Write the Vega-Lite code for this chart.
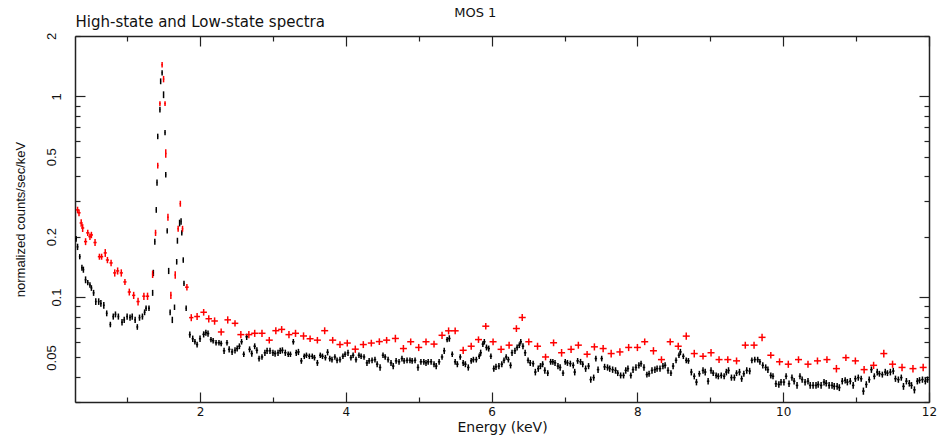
{
  "$schema": "https://vega.github.io/schema/vega-lite/v6.json",
  "width": 854,
  "height": 366,
  "autosize": {"type": "none"},
  "padding": {"left": 75, "top": 36, "right": 12, "bottom": 38},
  "background": "white",
  "title": {"text": "MOS 1", "anchor": "middle", "frame": "bounds", "font": "DejaVu Sans", "fontSize": 13, "fontWeight": "normal", "color": "#111111", "offset": -6},
  "config": {"view": {"stroke": null}},
  "datasets": {
    "d": [
      {"s":"low","e":0.30,"de":0.012,"v":0.195,"dv":0.0065},
      {"s":"low","e":0.32,"de":0.012,"v":0.178,"dv":0.0065},
      {"s":"low","e":0.35,"de":0.012,"v":0.159,"dv":0.0048},
      {"s":"low","e":0.38,"de":0.012,"v":0.140,"dv":0.0048},
      {"s":"low","e":0.40,"de":0.012,"v":0.137,"dv":0.0048},
      {"s":"low","e":0.43,"de":0.012,"v":0.122,"dv":0.0048},
      {"s":"low","e":0.46,"de":0.012,"v":0.118,"dv":0.0036},
      {"s":"low","e":0.49,"de":0.012,"v":0.115,"dv":0.0036},
      {"s":"low","e":0.51,"de":0.012,"v":0.111,"dv":0.0036},
      {"s":"low","e":0.54,"de":0.012,"v":0.105,"dv":0.0036},
      {"s":"low","e":0.57,"de":0.012,"v":0.095,"dv":0.0036},
      {"s":"low","e":0.61,"de":0.012,"v":0.095,"dv":0.0036},
      {"s":"low","e":0.64,"de":0.012,"v":0.093,"dv":0.0036},
      {"s":"low","e":0.68,"de":0.012,"v":0.091,"dv":0.0036},
      {"s":"low","e":0.72,"de":0.012,"v":0.083,"dv":0.0028},
      {"s":"low","e":0.77,"de":0.012,"v":0.073,"dv":0.0023},
      {"s":"low","e":0.81,"de":0.012,"v":0.080,"dv":0.0028},
      {"s":"low","e":0.84,"de":0.012,"v":0.082,"dv":0.0028},
      {"s":"low","e":0.88,"de":0.012,"v":0.080,"dv":0.0028},
      {"s":"low","e":0.93,"de":0.012,"v":0.075,"dv":0.0028},
      {"s":"low","e":0.96,"de":0.012,"v":0.077,"dv":0.0028},
      {"s":"low","e":1.00,"de":0.012,"v":0.080,"dv":0.0028},
      {"s":"low","e":1.04,"de":0.012,"v":0.079,"dv":0.0028},
      {"s":"low","e":1.07,"de":0.012,"v":0.080,"dv":0.0028},
      {"s":"low","e":1.11,"de":0.012,"v":0.077,"dv":0.0028},
      {"s":"low","e":1.14,"de":0.012,"v":0.071,"dv":0.0023},
      {"s":"low","e":1.17,"de":0.012,"v":0.079,"dv":0.0028},
      {"s":"low","e":1.21,"de":0.012,"v":0.080,"dv":0.0028},
      {"s":"low","e":1.24,"de":0.012,"v":0.084,"dv":0.0028},
      {"s":"low","e":1.26,"de":0.012,"v":0.088,"dv":0.0028},
      {"s":"low","e":1.30,"de":0.012,"v":0.088,"dv":0.0028},
      {"s":"low","e":1.35,"de":0.006,"v":0.105,"dv":0.0036},
      {"s":"low","e":1.36,"de":0.006,"v":0.132,"dv":0.0048},
      {"s":"low","e":1.38,"de":0.006,"v":0.189,"dv":0.0065},
      {"s":"low","e":1.40,"de":0.006,"v":0.272,"dv":0.009},
      {"s":"low","e":1.41,"de":0.006,"v":0.372,"dv":0.013},
      {"s":"low","e":1.42,"de":0.006,"v":0.632,"dv":0.02},
      {"s":"low","e":1.45,"de":0.006,"v":0.86,"dv":0.028},
      {"s":"low","e":1.46,"de":0.006,"v":1.19,"dv":0.04},
      {"s":"low","e":1.48,"de":0.006,"v":1.31,"dv":0.04},
      {"s":"low","e":1.50,"de":0.006,"v":1.02,"dv":0.04},
      {"s":"low","e":1.52,"de":0.006,"v":0.66,"dv":0.02},
      {"s":"low","e":1.53,"de":0.006,"v":0.407,"dv":0.013},
      {"s":"low","e":1.55,"de":0.006,"v":0.214,"dv":0.0065},
      {"s":"low","e":1.57,"de":0.006,"v":0.135,"dv":0.0048},
      {"s":"low","e":1.59,"de":0.006,"v":0.084,"dv":0.0028},
      {"s":"low","e":1.62,"de":0.006,"v":0.077,"dv":0.0028},
      {"s":"low","e":1.65,"de":0.006,"v":0.089,"dv":0.0028},
      {"s":"low","e":1.68,"de":0.006,"v":0.150,"dv":0.0048},
      {"s":"low","e":1.69,"de":0.006,"v":0.191,"dv":0.0065},
      {"s":"low","e":1.72,"de":0.006,"v":0.234,"dv":0.009},
      {"s":"low","e":1.74,"de":0.006,"v":0.238,"dv":0.009},
      {"s":"low","e":1.75,"de":0.006,"v":0.209,"dv":0.0065},
      {"s":"low","e":1.77,"de":0.006,"v":0.153,"dv":0.0048},
      {"s":"low","e":1.78,"de":0.006,"v":0.117,"dv":0.0036},
      {"s":"low","e":1.81,"de":0.008,"v":0.088,"dv":0.0028},
      {"s":"low","e":1.86,"de":0.015,"v":0.065,"dv":0.0023},
      {"s":"low","e":1.90,"de":0.015,"v":0.062,"dv":0.0023},
      {"s":"low","e":1.93,"de":0.015,"v":0.060,"dv":0.0019},
      {"s":"low","e":1.96,"de":0.015,"v":0.058,"dv":0.0019},
      {"s":"low","e":2.00,"de":0.015,"v":0.062,"dv":0.0023},
      {"s":"low","e":2.05,"de":0.017,"v":0.0652,"dv":0.0023},
      {"s":"low","e":2.08,"de":0.017,"v":0.0665,"dv":0.0023},
      {"s":"low","e":2.11,"de":0.017,"v":0.0658,"dv":0.0023},
      {"s":"low","e":2.15,"de":0.017,"v":0.0614,"dv":0.0019},
      {"s":"low","e":2.18,"de":0.017,"v":0.0606,"dv":0.0019},
      {"s":"low","e":2.22,"de":0.017,"v":0.0592,"dv":0.0019},
      {"s":"low","e":2.26,"de":0.017,"v":0.0592,"dv":0.0019},
      {"s":"low","e":2.29,"de":0.017,"v":0.0587,"dv":0.0019},
      {"s":"low","e":2.33,"de":0.017,"v":0.0540,"dv":0.0019},
      {"s":"low","e":2.37,"de":0.017,"v":0.0592,"dv":0.0019},
      {"s":"low","e":2.40,"de":0.017,"v":0.0549,"dv":0.0019},
      {"s":"low","e":2.44,"de":0.017,"v":0.0533,"dv":0.0019},
      {"s":"low","e":2.48,"de":0.017,"v":0.0543,"dv":0.0019},
      {"s":"low","e":2.51,"de":0.017,"v":0.0554,"dv":0.0019},
      {"s":"low","e":2.54,"de":0.017,"v":0.0569,"dv":0.0019},
      {"s":"low","e":2.57,"de":0.017,"v":0.0599,"dv":0.0019},
      {"s":"low","e":2.60,"de":0.017,"v":0.0519,"dv":0.0016},
      {"s":"low","e":2.64,"de":0.017,"v":0.0634,"dv":0.0023},
      {"s":"low","e":2.68,"de":0.017,"v":0.0549,"dv":0.0019},
      {"s":"low","e":2.71,"de":0.017,"v":0.0523,"dv":0.0019},
      {"s":"low","e":2.75,"de":0.017,"v":0.0569,"dv":0.0019},
      {"s":"low","e":2.78,"de":0.017,"v":0.0543,"dv":0.0019},
      {"s":"low","e":2.81,"de":0.017,"v":0.0494,"dv":0.0016},
      {"s":"low","e":2.85,"de":0.017,"v":0.0503,"dv":0.0016},
      {"s":"low","e":2.89,"de":0.017,"v":0.0528,"dv":0.0019},
      {"s":"low","e":2.92,"de":0.017,"v":0.0540,"dv":0.0019},
      {"s":"low","e":2.96,"de":0.017,"v":0.0540,"dv":0.0019},
      {"s":"low","e":3.00,"de":0.017,"v":0.0528,"dv":0.0019},
      {"s":"low","e":3.03,"de":0.017,"v":0.0523,"dv":0.0019},
      {"s":"low","e":3.07,"de":0.017,"v":0.0528,"dv":0.0019},
      {"s":"low","e":3.10,"de":0.017,"v":0.0540,"dv":0.0019},
      {"s":"low","e":3.13,"de":0.017,"v":0.0543,"dv":0.0019},
      {"s":"low","e":3.17,"de":0.017,"v":0.0528,"dv":0.0019},
      {"s":"low","e":3.21,"de":0.017,"v":0.0519,"dv":0.0016},
      {"s":"low","e":3.24,"de":0.017,"v":0.0519,"dv":0.0016},
      {"s":"low","e":3.28,"de":0.017,"v":0.0599,"dv":0.0019},
      {"s":"low","e":3.32,"de":0.017,"v":0.0528,"dv":0.0019},
      {"s":"low","e":3.35,"de":0.017,"v":0.0533,"dv":0.0019},
      {"s":"low","e":3.39,"de":0.017,"v":0.0481,"dv":0.0016},
      {"s":"low","e":3.43,"de":0.017,"v":0.0507,"dv":0.0016},
      {"s":"low","e":3.46,"de":0.017,"v":0.0513,"dv":0.0016},
      {"s":"low","e":3.50,"de":0.017,"v":0.0507,"dv":0.0016},
      {"s":"low","e":3.54,"de":0.017,"v":0.0507,"dv":0.0016},
      {"s":"low","e":3.57,"de":0.017,"v":0.0499,"dv":0.0016},
      {"s":"low","e":3.61,"de":0.017,"v":0.0470,"dv":0.0016},
      {"s":"low","e":3.65,"de":0.017,"v":0.0513,"dv":0.0016},
      {"s":"low","e":3.68,"de":0.017,"v":0.0507,"dv":0.0016},
      {"s":"low","e":3.72,"de":0.017,"v":0.0499,"dv":0.0016},
      {"s":"low","e":3.75,"de":0.017,"v":0.0531,"dv":0.0019},
      {"s":"low","e":3.78,"de":0.017,"v":0.0494,"dv":0.0016},
      {"s":"low","e":3.81,"de":0.017,"v":0.0488,"dv":0.0016},
      {"s":"low","e":3.85,"de":0.017,"v":0.0503,"dv":0.0016},
      {"s":"low","e":3.88,"de":0.017,"v":0.0484,"dv":0.0016},
      {"s":"low","e":3.92,"de":0.017,"v":0.0488,"dv":0.0016},
      {"s":"low","e":3.96,"de":0.017,"v":0.0507,"dv":0.0016},
      {"s":"low","e":3.99,"de":0.017,"v":0.0519,"dv":0.0016},
      {"s":"low","e":4.03,"de":0.017,"v":0.0528,"dv":0.0019},
      {"s":"low","e":4.07,"de":0.017,"v":0.0499,"dv":0.0016},
      {"s":"low","e":4.10,"de":0.017,"v":0.0513,"dv":0.0016},
      {"s":"low","e":4.14,"de":0.017,"v":0.0488,"dv":0.0016},
      {"s":"low","e":4.18,"de":0.017,"v":0.0513,"dv":0.0016},
      {"s":"low","e":4.21,"de":0.017,"v":0.0507,"dv":0.0016},
      {"s":"low","e":4.25,"de":0.017,"v":0.0503,"dv":0.0016},
      {"s":"low","e":4.29,"de":0.017,"v":0.0470,"dv":0.0016},
      {"s":"low","e":4.32,"de":0.017,"v":0.0481,"dv":0.0016},
      {"s":"low","e":4.36,"de":0.017,"v":0.0484,"dv":0.0016},
      {"s":"low","e":4.40,"de":0.017,"v":0.0488,"dv":0.0016},
      {"s":"low","e":4.43,"de":0.017,"v":0.0463,"dv":0.0016},
      {"s":"low","e":4.47,"de":0.017,"v":0.0446,"dv":0.0016},
      {"s":"low","e":4.51,"de":0.017,"v":0.0513,"dv":0.0016},
      {"s":"low","e":4.54,"de":0.017,"v":0.0503,"dv":0.0016},
      {"s":"low","e":4.58,"de":0.017,"v":0.0488,"dv":0.0016},
      {"s":"low","e":4.62,"de":0.017,"v":0.0470,"dv":0.0016},
      {"s":"low","e":4.65,"de":0.017,"v":0.0453,"dv":0.0016},
      {"s":"low","e":4.69,"de":0.017,"v":0.0481,"dv":0.0016},
      {"s":"low","e":4.73,"de":0.017,"v":0.0476,"dv":0.0016},
      {"s":"low","e":4.77,"de":0.017,"v":0.0494,"dv":0.0016},
      {"s":"low","e":4.80,"de":0.017,"v":0.0481,"dv":0.0016},
      {"s":"low","e":4.84,"de":0.017,"v":0.0484,"dv":0.0016},
      {"s":"low","e":4.88,"de":0.017,"v":0.0484,"dv":0.0016},
      {"s":"low","e":4.91,"de":0.017,"v":0.0481,"dv":0.0016},
      {"s":"low","e":4.95,"de":0.017,"v":0.0484,"dv":0.0016},
      {"s":"low","e":4.99,"de":0.017,"v":0.0446,"dv":0.0016},
      {"s":"low","e":5.03,"de":0.017,"v":0.0476,"dv":0.0016},
      {"s":"low","e":5.07,"de":0.017,"v":0.0476,"dv":0.0016},
      {"s":"low","e":5.10,"de":0.017,"v":0.0470,"dv":0.0016},
      {"s":"low","e":5.13,"de":0.017,"v":0.0476,"dv":0.0016},
      {"s":"low","e":5.17,"de":0.017,"v":0.0476,"dv":0.0016},
      {"s":"low","e":5.21,"de":0.017,"v":0.0463,"dv":0.0016},
      {"s":"low","e":5.24,"de":0.017,"v":0.0453,"dv":0.0016},
      {"s":"low","e":5.28,"de":0.017,"v":0.0476,"dv":0.0016},
      {"s":"low","e":5.32,"de":0.017,"v":0.0503,"dv":0.0016},
      {"s":"low","e":5.35,"de":0.017,"v":0.0540,"dv":0.0019},
      {"s":"low","e":5.39,"de":0.017,"v":0.0614,"dv":0.0019},
      {"s":"low","e":5.42,"de":0.017,"v":0.0622,"dv":0.0023},
      {"s":"low","e":5.46,"de":0.017,"v":0.0519,"dv":0.0016},
      {"s":"low","e":5.50,"de":0.017,"v":0.0476,"dv":0.0016},
      {"s":"low","e":5.53,"de":0.017,"v":0.0463,"dv":0.0016},
      {"s":"low","e":5.57,"de":0.017,"v":0.0503,"dv":0.0016},
      {"s":"low","e":5.61,"de":0.017,"v":0.0470,"dv":0.0016},
      {"s":"low","e":5.64,"de":0.017,"v":0.0463,"dv":0.0016},
      {"s":"low","e":5.68,"de":0.017,"v":0.0446,"dv":0.0016},
      {"s":"low","e":5.72,"de":0.017,"v":0.0481,"dv":0.0016},
      {"s":"low","e":5.75,"de":0.017,"v":0.0488,"dv":0.0016},
      {"s":"low","e":5.79,"de":0.017,"v":0.0488,"dv":0.0016},
      {"s":"low","e":5.83,"de":0.017,"v":0.0507,"dv":0.0016},
      {"s":"low","e":5.85,"de":0.017,"v":0.0528,"dv":0.0019},
      {"s":"low","e":5.88,"de":0.017,"v":0.0583,"dv":0.0019},
      {"s":"low","e":5.90,"de":0.017,"v":0.0599,"dv":0.0019},
      {"s":"low","e":5.93,"de":0.017,"v":0.0561,"dv":0.0019},
      {"s":"low","e":5.96,"de":0.017,"v":0.0554,"dv":0.0019},
      {"s":"low","e":5.99,"de":0.017,"v":0.0507,"dv":0.0016},
      {"s":"low","e":6.03,"de":0.017,"v":0.0440,"dv":0.0016},
      {"s":"low","e":6.06,"de":0.017,"v":0.0449,"dv":0.0016},
      {"s":"low","e":6.10,"de":0.017,"v":0.0453,"dv":0.0016},
      {"s":"low","e":6.14,"de":0.017,"v":0.0463,"dv":0.0016},
      {"s":"low","e":6.17,"de":0.017,"v":0.0484,"dv":0.0016},
      {"s":"low","e":6.20,"de":0.017,"v":0.0503,"dv":0.0016},
      {"s":"low","e":6.23,"de":0.017,"v":0.0488,"dv":0.0016},
      {"s":"low","e":6.26,"de":0.017,"v":0.0457,"dv":0.0016},
      {"s":"low","e":6.28,"de":0.017,"v":0.0528,"dv":0.0019},
      {"s":"low","e":6.32,"de":0.017,"v":0.0540,"dv":0.0019},
      {"s":"low","e":6.35,"de":0.017,"v":0.0561,"dv":0.0019},
      {"s":"low","e":6.38,"de":0.017,"v":0.0576,"dv":0.0019},
      {"s":"low","e":6.40,"de":0.017,"v":0.0599,"dv":0.0019},
      {"s":"low","e":6.43,"de":0.017,"v":0.0569,"dv":0.0019},
      {"s":"low","e":6.46,"de":0.017,"v":0.0528,"dv":0.0019},
      {"s":"low","e":6.50,"de":0.017,"v":0.0484,"dv":0.0016},
      {"s":"low","e":6.53,"de":0.017,"v":0.0470,"dv":0.0016},
      {"s":"low","e":6.57,"de":0.017,"v":0.0466,"dv":0.0016},
      {"s":"low","e":6.60,"de":0.017,"v":0.0423,"dv":0.0016},
      {"s":"low","e":6.64,"de":0.017,"v":0.0440,"dv":0.0016},
      {"s":"low","e":6.67,"de":0.017,"v":0.0453,"dv":0.0016},
      {"s":"low","e":6.70,"de":0.017,"v":0.0463,"dv":0.0016},
      {"s":"low","e":6.73,"de":0.017,"v":0.0431,"dv":0.0016},
      {"s":"low","e":6.77,"de":0.017,"v":0.0418,"dv":0.0014},
      {"s":"low","e":6.81,"de":0.017,"v":0.0476,"dv":0.0016},
      {"s":"low","e":6.84,"de":0.017,"v":0.0476,"dv":0.0016},
      {"s":"low","e":6.87,"de":0.017,"v":0.0470,"dv":0.0016},
      {"s":"low","e":6.91,"de":0.017,"v":0.0453,"dv":0.0016},
      {"s":"low","e":6.94,"de":0.017,"v":0.0446,"dv":0.0016},
      {"s":"low","e":6.98,"de":0.017,"v":0.0418,"dv":0.0014},
      {"s":"low","e":7.01,"de":0.017,"v":0.0476,"dv":0.0016},
      {"s":"low","e":7.04,"de":0.017,"v":0.0470,"dv":0.0016},
      {"s":"low","e":7.08,"de":0.017,"v":0.0466,"dv":0.0016},
      {"s":"low","e":7.12,"de":0.017,"v":0.0457,"dv":0.0016},
      {"s":"low","e":7.14,"de":0.017,"v":0.0423,"dv":0.0016},
      {"s":"low","e":7.18,"de":0.017,"v":0.0481,"dv":0.0016},
      {"s":"low","e":7.22,"de":0.017,"v":0.0476,"dv":0.0016},
      {"s":"low","e":7.25,"de":0.017,"v":0.0463,"dv":0.0016},
      {"s":"low","e":7.29,"de":0.017,"v":0.0440,"dv":0.0016},
      {"s":"low","e":7.33,"de":0.017,"v":0.0453,"dv":0.0016},
      {"s":"low","e":7.36,"de":0.017,"v":0.0388,"dv":0.0014},
      {"s":"low","e":7.40,"de":0.017,"v":0.0397,"dv":0.0014},
      {"s":"low","e":7.43,"de":0.017,"v":0.0494,"dv":0.0016},
      {"s":"low","e":7.46,"de":0.017,"v":0.0435,"dv":0.0016},
      {"s":"low","e":7.51,"de":0.017,"v":0.0494,"dv":0.0016},
      {"s":"low","e":7.55,"de":0.017,"v":0.0449,"dv":0.0016},
      {"s":"low","e":7.59,"de":0.017,"v":0.0446,"dv":0.0016},
      {"s":"low","e":7.62,"de":0.017,"v":0.0440,"dv":0.0016},
      {"s":"low","e":7.66,"de":0.017,"v":0.0435,"dv":0.0016},
      {"s":"low","e":7.70,"de":0.017,"v":0.0431,"dv":0.0016},
      {"s":"low","e":7.73,"de":0.017,"v":0.0418,"dv":0.0014},
      {"s":"low","e":7.77,"de":0.017,"v":0.0407,"dv":0.0014},
      {"s":"low","e":7.81,"de":0.017,"v":0.0407,"dv":0.0014},
      {"s":"low","e":7.84,"de":0.017,"v":0.0431,"dv":0.0016},
      {"s":"low","e":7.87,"de":0.017,"v":0.0440,"dv":0.0016},
      {"s":"low","e":7.91,"de":0.017,"v":0.0407,"dv":0.0014},
      {"s":"low","e":7.94,"de":0.017,"v":0.0435,"dv":0.0016},
      {"s":"low","e":7.98,"de":0.017,"v":0.0446,"dv":0.0016},
      {"s":"low","e":8.02,"de":0.017,"v":0.0457,"dv":0.0016},
      {"s":"low","e":8.05,"de":0.017,"v":0.0466,"dv":0.0016},
      {"s":"low","e":8.09,"de":0.017,"v":0.0446,"dv":0.0016},
      {"s":"low","e":8.13,"de":0.017,"v":0.0411,"dv":0.0014},
      {"s":"low","e":8.16,"de":0.017,"v":0.0415,"dv":0.0014},
      {"s":"low","e":8.20,"de":0.017,"v":0.0431,"dv":0.0016},
      {"s":"low","e":8.24,"de":0.017,"v":0.0435,"dv":0.0016},
      {"s":"low","e":8.27,"de":0.017,"v":0.0440,"dv":0.0016},
      {"s":"low","e":8.31,"de":0.017,"v":0.0440,"dv":0.0016},
      {"s":"low","e":8.35,"de":0.017,"v":0.0453,"dv":0.0016},
      {"s":"low","e":8.38,"de":0.017,"v":0.0457,"dv":0.0016},
      {"s":"low","e":8.42,"de":0.017,"v":0.0431,"dv":0.0016},
      {"s":"low","e":8.46,"de":0.017,"v":0.0418,"dv":0.0014},
      {"s":"low","e":8.49,"de":0.017,"v":0.0453,"dv":0.0016},
      {"s":"low","e":8.53,"de":0.017,"v":0.0484,"dv":0.0016},
      {"s":"low","e":8.57,"de":0.017,"v":0.0513,"dv":0.0016},
      {"s":"low","e":8.59,"de":0.017,"v":0.0533,"dv":0.0019},
      {"s":"low","e":8.63,"de":0.017,"v":0.0507,"dv":0.0016},
      {"s":"low","e":8.67,"de":0.017,"v":0.0484,"dv":0.0016},
      {"s":"low","e":8.70,"de":0.017,"v":0.0481,"dv":0.0016},
      {"s":"low","e":8.74,"de":0.017,"v":0.0423,"dv":0.0016},
      {"s":"low","e":8.78,"de":0.017,"v":0.0403,"dv":0.0014},
      {"s":"low","e":8.81,"de":0.017,"v":0.0377,"dv":0.0014},
      {"s":"low","e":8.85,"de":0.017,"v":0.0415,"dv":0.0014},
      {"s":"low","e":8.90,"de":0.017,"v":0.0431,"dv":0.0016},
      {"s":"low","e":8.93,"de":0.017,"v":0.0423,"dv":0.0016},
      {"s":"low","e":8.97,"de":0.017,"v":0.0381,"dv":0.0014},
      {"s":"low","e":9.01,"de":0.017,"v":0.0431,"dv":0.0016},
      {"s":"low","e":9.04,"de":0.017,"v":0.0418,"dv":0.0014},
      {"s":"low","e":9.08,"de":0.017,"v":0.0407,"dv":0.0014},
      {"s":"low","e":9.11,"de":0.017,"v":0.0403,"dv":0.0014},
      {"s":"low","e":9.15,"de":0.017,"v":0.0407,"dv":0.0014},
      {"s":"low","e":9.19,"de":0.017,"v":0.0403,"dv":0.0014},
      {"s":"low","e":9.22,"de":0.017,"v":0.0423,"dv":0.0016},
      {"s":"low","e":9.25,"de":0.017,"v":0.0431,"dv":0.0016},
      {"s":"low","e":9.29,"de":0.017,"v":0.0397,"dv":0.0014},
      {"s":"low","e":9.33,"de":0.017,"v":0.0397,"dv":0.0014},
      {"s":"low","e":9.36,"de":0.017,"v":0.0418,"dv":0.0014},
      {"s":"low","e":9.40,"de":0.017,"v":0.0423,"dv":0.0016},
      {"s":"low","e":9.43,"de":0.017,"v":0.0392,"dv":0.0014},
      {"s":"low","e":9.46,"de":0.017,"v":0.0415,"dv":0.0014},
      {"s":"low","e":9.50,"de":0.017,"v":0.0431,"dv":0.0016},
      {"s":"low","e":9.54,"de":0.017,"v":0.0428,"dv":0.0016},
      {"s":"low","e":9.57,"de":0.017,"v":0.0484,"dv":0.0016},
      {"s":"low","e":9.61,"de":0.017,"v":0.0488,"dv":0.0016},
      {"s":"low","e":9.65,"de":0.017,"v":0.0488,"dv":0.0016},
      {"s":"low","e":9.68,"de":0.017,"v":0.0476,"dv":0.0016},
      {"s":"low","e":9.72,"de":0.017,"v":0.0457,"dv":0.0016},
      {"s":"low","e":9.76,"de":0.017,"v":0.0446,"dv":0.0016},
      {"s":"low","e":9.79,"de":0.017,"v":0.0435,"dv":0.0016},
      {"s":"low","e":9.83,"de":0.017,"v":0.0407,"dv":0.0014},
      {"s":"low","e":9.86,"de":0.017,"v":0.0403,"dv":0.0014},
      {"s":"low","e":9.90,"de":0.017,"v":0.0370,"dv":0.0014},
      {"s":"low","e":9.94,"de":0.017,"v":0.0367,"dv":0.0014},
      {"s":"low","e":9.97,"de":0.017,"v":0.0377,"dv":0.0014},
      {"s":"low","e":10.01,"de":0.017,"v":0.0377,"dv":0.0014},
      {"s":"low","e":10.04,"de":0.017,"v":0.0403,"dv":0.0014},
      {"s":"low","e":10.08,"de":0.017,"v":0.0370,"dv":0.0014},
      {"s":"low","e":10.12,"de":0.017,"v":0.0397,"dv":0.0014},
      {"s":"low","e":10.15,"de":0.017,"v":0.0381,"dv":0.0014},
      {"s":"low","e":10.19,"de":0.017,"v":0.0363,"dv":0.0014},
      {"s":"low","e":10.23,"de":0.017,"v":0.0403,"dv":0.0014},
      {"s":"low","e":10.26,"de":0.017,"v":0.0388,"dv":0.0014},
      {"s":"low","e":10.30,"de":0.017,"v":0.0377,"dv":0.0014},
      {"s":"low","e":10.34,"de":0.017,"v":0.0381,"dv":0.0014},
      {"s":"low","e":10.37,"de":0.017,"v":0.0363,"dv":0.0014},
      {"s":"low","e":10.41,"de":0.017,"v":0.0363,"dv":0.0014},
      {"s":"low","e":10.45,"de":0.017,"v":0.0363,"dv":0.0014},
      {"s":"low","e":10.48,"de":0.017,"v":0.0367,"dv":0.0014},
      {"s":"low","e":10.52,"de":0.017,"v":0.0363,"dv":0.0014},
      {"s":"low","e":10.56,"de":0.017,"v":0.0377,"dv":0.0014},
      {"s":"low","e":10.59,"de":0.017,"v":0.0372,"dv":0.0014},
      {"s":"low","e":10.63,"de":0.017,"v":0.0363,"dv":0.0014},
      {"s":"low","e":10.67,"de":0.017,"v":0.0363,"dv":0.0014},
      {"s":"low","e":10.70,"de":0.017,"v":0.0359,"dv":0.0014},
      {"s":"low","e":10.74,"de":0.017,"v":0.0359,"dv":0.0014},
      {"s":"low","e":10.77,"de":0.017,"v":0.0354,"dv":0.0014},
      {"s":"low","e":10.81,"de":0.017,"v":0.0381,"dv":0.0014},
      {"s":"low","e":10.85,"de":0.017,"v":0.0385,"dv":0.0014},
      {"s":"low","e":10.88,"de":0.017,"v":0.0377,"dv":0.0014},
      {"s":"low","e":10.92,"de":0.017,"v":0.0381,"dv":0.0014},
      {"s":"low","e":10.96,"de":0.017,"v":0.0363,"dv":0.0014},
      {"s":"low","e":10.99,"de":0.017,"v":0.0392,"dv":0.0014},
      {"s":"low","e":11.03,"de":0.017,"v":0.0397,"dv":0.0014},
      {"s":"low","e":11.07,"de":0.017,"v":0.0392,"dv":0.0014},
      {"s":"low","e":11.10,"de":0.017,"v":0.0340,"dv":0.0014},
      {"s":"low","e":11.14,"de":0.017,"v":0.0367,"dv":0.0014},
      {"s":"low","e":11.18,"de":0.017,"v":0.0388,"dv":0.0014},
      {"s":"low","e":11.21,"de":0.017,"v":0.0435,"dv":0.0016},
      {"s":"low","e":11.25,"de":0.017,"v":0.0403,"dv":0.0014},
      {"s":"low","e":11.29,"de":0.017,"v":0.0423,"dv":0.0016},
      {"s":"low","e":11.32,"de":0.017,"v":0.0415,"dv":0.0014},
      {"s":"low","e":11.36,"de":0.017,"v":0.0411,"dv":0.0014},
      {"s":"low","e":11.40,"de":0.017,"v":0.0423,"dv":0.0016},
      {"s":"low","e":11.43,"de":0.017,"v":0.0418,"dv":0.0014},
      {"s":"low","e":11.47,"de":0.017,"v":0.0423,"dv":0.0016},
      {"s":"low","e":11.51,"de":0.017,"v":0.0428,"dv":0.0016},
      {"s":"low","e":11.54,"de":0.017,"v":0.0392,"dv":0.0014},
      {"s":"low","e":11.58,"de":0.017,"v":0.0388,"dv":0.0014},
      {"s":"low","e":11.62,"de":0.017,"v":0.0397,"dv":0.0014},
      {"s":"low","e":11.65,"de":0.017,"v":0.0359,"dv":0.0014},
      {"s":"low","e":11.69,"de":0.017,"v":0.0381,"dv":0.0014},
      {"s":"low","e":11.73,"de":0.017,"v":0.0372,"dv":0.0014},
      {"s":"low","e":11.76,"de":0.017,"v":0.0363,"dv":0.0014},
      {"s":"low","e":11.80,"de":0.017,"v":0.0345,"dv":0.0014},
      {"s":"low","e":11.84,"de":0.017,"v":0.0381,"dv":0.0014},
      {"s":"low","e":11.87,"de":0.017,"v":0.0385,"dv":0.0014},
      {"s":"low","e":11.91,"de":0.017,"v":0.0388,"dv":0.0014},
      {"s":"low","e":11.95,"de":0.017,"v":0.0381,"dv":0.0014},
      {"s":"low","e":11.98,"de":0.017,"v":0.0388,"dv":0.0014},
      {"s":"high","e":0.32,"de":0.022,"v":0.272,"dv":0.01},
      {"s":"high","e":0.34,"de":0.022,"v":0.263,"dv":0.01},
      {"s":"high","e":0.37,"de":0.022,"v":0.234,"dv":0.01},
      {"s":"high","e":0.39,"de":0.022,"v":0.221,"dv":0.01},
      {"s":"high","e":0.43,"de":0.022,"v":0.189,"dv":0.0075},
      {"s":"high","e":0.46,"de":0.022,"v":0.209,"dv":0.0075},
      {"s":"high","e":0.49,"de":0.022,"v":0.200,"dv":0.0075},
      {"s":"high","e":0.51,"de":0.022,"v":0.204,"dv":0.0075},
      {"s":"high","e":0.56,"de":0.022,"v":0.187,"dv":0.0075},
      {"s":"high","e":0.62,"de":0.022,"v":0.159,"dv":0.0055},
      {"s":"high","e":0.65,"de":0.022,"v":0.159,"dv":0.0055},
      {"s":"high","e":0.70,"de":0.022,"v":0.166,"dv":0.0075},
      {"s":"high","e":0.73,"de":0.022,"v":0.153,"dv":0.0055},
      {"s":"high","e":0.78,"de":0.022,"v":0.148,"dv":0.0055},
      {"s":"high","e":0.83,"de":0.022,"v":0.132,"dv":0.0055},
      {"s":"high","e":0.87,"de":0.022,"v":0.135,"dv":0.0055},
      {"s":"high","e":0.92,"de":0.022,"v":0.132,"dv":0.0055},
      {"s":"high","e":0.97,"de":0.022,"v":0.119,"dv":0.0042},
      {"s":"high","e":1.03,"de":0.022,"v":0.106,"dv":0.0042},
      {"s":"high","e":1.09,"de":0.022,"v":0.102,"dv":0.0042},
      {"s":"high","e":1.15,"de":0.022,"v":0.095,"dv":0.0042},
      {"s":"high","e":1.23,"de":0.022,"v":0.101,"dv":0.0042},
      {"s":"high","e":1.28,"de":0.022,"v":0.101,"dv":0.0042},
      {"s":"high","e":1.35,"de":0.01,"v":0.130,"dv":0.0055},
      {"s":"high","e":1.39,"de":0.01,"v":0.209,"dv":0.0075},
      {"s":"high","e":1.42,"de":0.01,"v":0.452,"dv":0.015},
      {"s":"high","e":1.45,"de":0.01,"v":0.922,"dv":0.025},
      {"s":"high","e":1.48,"de":0.01,"v":1.44,"dv":0.045},
      {"s":"high","e":1.50,"de":0.01,"v":1.22,"dv":0.045},
      {"s":"high","e":1.52,"de":0.01,"v":0.922,"dv":0.025},
      {"s":"high","e":1.53,"de":0.01,"v":0.52,"dv":0.025},
      {"s":"high","e":1.56,"de":0.01,"v":0.25,"dv":0.01},
      {"s":"high","e":1.60,"de":0.01,"v":0.102,"dv":0.0042},
      {"s":"high","e":1.66,"de":0.01,"v":0.129,"dv":0.0055},
      {"s":"high","e":1.70,"de":0.01,"v":0.219,"dv":0.0075},
      {"s":"high","e":1.73,"de":0.01,"v":0.292,"dv":0.01},
      {"s":"high","e":1.76,"de":0.01,"v":0.219,"dv":0.0075},
      {"s":"high","e":1.82,"de":0.025,"v":0.112,"dv":0.0042},
      {"s":"high","e":1.88,"de":0.03,"v":0.079,"dv":0.0032},
      {"s":"high","e":1.96,"de":0.04,"v":0.080,"dv":0.0032},
      {"s":"high","e":2.05,"de":0.045,"v":0.084,"dv":0.0032},
      {"s":"high","e":2.12,"de":0.045,"v":0.078,"dv":0.0032},
      {"s":"high","e":2.20,"de":0.045,"v":0.076,"dv":0.0032},
      {"s":"high","e":2.29,"de":0.045,"v":0.067,"dv":0.0027},
      {"s":"high","e":2.38,"de":0.045,"v":0.077,"dv":0.0032},
      {"s":"high","e":2.48,"de":0.045,"v":0.074,"dv":0.0027},
      {"s":"high","e":2.56,"de":0.048,"v":0.065,"dv":0.0027},
      {"s":"high","e":2.67,"de":0.048,"v":0.065,"dv":0.0027},
      {"s":"high","e":2.75,"de":0.048,"v":0.066,"dv":0.0027},
      {"s":"high","e":2.85,"de":0.048,"v":0.066,"dv":0.0027},
      {"s":"high","e":2.95,"de":0.048,"v":0.061,"dv":0.0023},
      {"s":"high","e":3.04,"de":0.048,"v":0.068,"dv":0.0027},
      {"s":"high","e":3.12,"de":0.048,"v":0.069,"dv":0.0027},
      {"s":"high","e":3.22,"de":0.048,"v":0.065,"dv":0.0027},
      {"s":"high","e":3.31,"de":0.048,"v":0.066,"dv":0.0027},
      {"s":"high","e":3.42,"de":0.048,"v":0.064,"dv":0.0027},
      {"s":"high","e":3.51,"de":0.048,"v":0.062,"dv":0.0023},
      {"s":"high","e":3.61,"de":0.048,"v":0.061,"dv":0.0023},
      {"s":"high","e":3.71,"de":0.048,"v":0.068,"dv":0.0027},
      {"s":"high","e":3.82,"de":0.048,"v":0.061,"dv":0.0023},
      {"s":"high","e":3.92,"de":0.048,"v":0.058,"dv":0.0023},
      {"s":"high","e":4.02,"de":0.048,"v":0.059,"dv":0.0023},
      {"s":"high","e":4.13,"de":0.048,"v":0.055,"dv":0.0023},
      {"s":"high","e":4.24,"de":0.048,"v":0.058,"dv":0.0023},
      {"s":"high","e":4.35,"de":0.048,"v":0.059,"dv":0.0023},
      {"s":"high","e":4.46,"de":0.048,"v":0.060,"dv":0.0023},
      {"s":"high","e":4.56,"de":0.048,"v":0.061,"dv":0.0023},
      {"s":"high","e":4.68,"de":0.048,"v":0.0622,"dv":0.0027},
      {"s":"high","e":4.79,"de":0.048,"v":0.0554,"dv":0.0023},
      {"s":"high","e":4.89,"de":0.048,"v":0.0599,"dv":0.0023},
      {"s":"high","e":5.00,"de":0.048,"v":0.0561,"dv":0.0023},
      {"s":"high","e":5.10,"de":0.048,"v":0.0599,"dv":0.0023},
      {"s":"high","e":5.21,"de":0.048,"v":0.0583,"dv":0.0023},
      {"s":"high","e":5.32,"de":0.048,"v":0.0645,"dv":0.0027},
      {"s":"high","e":5.41,"de":0.048,"v":0.0679,"dv":0.0027},
      {"s":"high","e":5.50,"de":0.048,"v":0.0679,"dv":0.0027},
      {"s":"high","e":5.61,"de":0.048,"v":0.0543,"dv":0.0023},
      {"s":"high","e":5.72,"de":0.048,"v":0.0569,"dv":0.0023},
      {"s":"high","e":5.82,"de":0.048,"v":0.0614,"dv":0.0023},
      {"s":"high","e":5.92,"de":0.048,"v":0.0716,"dv":0.0027},
      {"s":"high","e":6.02,"de":0.048,"v":0.0599,"dv":0.0023},
      {"s":"high","e":6.13,"de":0.048,"v":0.0549,"dv":0.0023},
      {"s":"high","e":6.24,"de":0.048,"v":0.0576,"dv":0.0023},
      {"s":"high","e":6.34,"de":0.048,"v":0.0697,"dv":0.0027},
      {"s":"high","e":6.42,"de":0.048,"v":0.0791,"dv":0.0032},
      {"s":"high","e":6.51,"de":0.048,"v":0.0599,"dv":0.0023},
      {"s":"high","e":6.63,"de":0.048,"v":0.0569,"dv":0.0023},
      {"s":"high","e":6.74,"de":0.048,"v":0.0503,"dv":0.0019},
      {"s":"high","e":6.85,"de":0.048,"v":0.0592,"dv":0.0023},
      {"s":"high","e":6.96,"de":0.048,"v":0.0528,"dv":0.0023},
      {"s":"high","e":7.09,"de":0.048,"v":0.0549,"dv":0.0023},
      {"s":"high","e":7.19,"de":0.048,"v":0.0576,"dv":0.0023},
      {"s":"high","e":7.31,"de":0.048,"v":0.0519,"dv":0.0019},
      {"s":"high","e":7.41,"de":0.048,"v":0.0565,"dv":0.0023},
      {"s":"high","e":7.53,"de":0.048,"v":0.0554,"dv":0.0023},
      {"s":"high","e":7.64,"de":0.048,"v":0.0523,"dv":0.0023},
      {"s":"high","e":7.76,"de":0.048,"v":0.0533,"dv":0.0023},
      {"s":"high","e":7.88,"de":0.048,"v":0.0561,"dv":0.0023},
      {"s":"high","e":8.00,"de":0.048,"v":0.0561,"dv":0.0023},
      {"s":"high","e":8.10,"de":0.048,"v":0.0599,"dv":0.0023},
      {"s":"high","e":8.22,"de":0.048,"v":0.0540,"dv":0.0023},
      {"s":"high","e":8.33,"de":0.048,"v":0.0488,"dv":0.0019},
      {"s":"high","e":8.45,"de":0.048,"v":0.0599,"dv":0.0023},
      {"s":"high","e":8.56,"de":0.048,"v":0.0569,"dv":0.0023},
      {"s":"high","e":8.67,"de":0.048,"v":0.0639,"dv":0.0027},
      {"s":"high","e":8.78,"de":0.048,"v":0.0523,"dv":0.0023},
      {"s":"high","e":8.90,"de":0.048,"v":0.0507,"dv":0.0019},
      {"s":"high","e":9.01,"de":0.048,"v":0.0528,"dv":0.0023},
      {"s":"high","e":9.12,"de":0.048,"v":0.0488,"dv":0.0019},
      {"s":"high","e":9.24,"de":0.048,"v":0.0488,"dv":0.0019},
      {"s":"high","e":9.36,"de":0.048,"v":0.0481,"dv":0.0019},
      {"s":"high","e":9.48,"de":0.048,"v":0.0576,"dv":0.0023},
      {"s":"high","e":9.60,"de":0.048,"v":0.0576,"dv":0.0023},
      {"s":"high","e":9.71,"de":0.048,"v":0.0630,"dv":0.0027},
      {"s":"high","e":9.83,"de":0.048,"v":0.0513,"dv":0.0019},
      {"s":"high","e":9.95,"de":0.048,"v":0.0476,"dv":0.0019},
      {"s":"high","e":10.07,"de":0.048,"v":0.0463,"dv":0.0019},
      {"s":"high","e":10.21,"de":0.048,"v":0.0488,"dv":0.0019},
      {"s":"high","e":10.34,"de":0.048,"v":0.0463,"dv":0.0019},
      {"s":"high","e":10.47,"de":0.048,"v":0.0481,"dv":0.0019},
      {"s":"high","e":10.60,"de":0.048,"v":0.0488,"dv":0.0019},
      {"s":"high","e":10.73,"de":0.048,"v":0.0440,"dv":0.0019},
      {"s":"high","e":10.86,"de":0.048,"v":0.0499,"dv":0.0019},
      {"s":"high","e":10.99,"de":0.048,"v":0.0481,"dv":0.0019},
      {"s":"high","e":11.11,"de":0.048,"v":0.0435,"dv":0.0019},
      {"s":"high","e":11.24,"de":0.048,"v":0.0457,"dv":0.0019},
      {"s":"high","e":11.38,"de":0.048,"v":0.0523,"dv":0.0023},
      {"s":"high","e":11.50,"de":0.048,"v":0.0463,"dv":0.0019},
      {"s":"high","e":11.63,"de":0.048,"v":0.0446,"dv":0.0019},
      {"s":"high","e":11.78,"de":0.048,"v":0.0440,"dv":0.0019},
      {"s":"high","e":11.92,"de":0.048,"v":0.0446,"dv":0.0019}
    ]
  },
  "data": {"name": "d"},
  "layer": [
    {
      "mark": {"type": "errorbar", "ticks": false, "thickness": 1.5},
      "encoding": {
        "x": {
          "field": "e", "type": "quantitative",
          "scale": {"domain": [0.285, 12], "nice": false, "zero": false},
          "axis": {
            "orient": "bottom", "title": "Energy (keV)", "grid": false,
            "values": [1,2,3,4,5,6,7,8,9,10,11,12],
            "labelExpr": "datum.value % 2 == 0 ? datum.label : ''",
            "tickSize": {"condition": {"test": "datum.value % 2 == 0", "value": -10}, "value": -5},
            "labelPadding": 14, "labelFlush": false, "labelFont": "DejaVu Sans", "labelFontSize": 12, "labelColor": "#111111",
            "titleFont": "DejaVu Sans", "titleFontSize": 14, "titleFontWeight": "normal", "titleColor": "#111111", "titlePadding": 3,
            "domainColor": "#222222", "domainWidth": 1.5, "tickColor": "#222222", "tickWidth": 1.2
          }
        },
        "y": {
          "field": "v", "type": "quantitative",
          "scale": {"type": "log", "domain": [0.03, 2], "nice": false},
          "axis": {
            "orient": "left", "title": "normalized counts/sec/keV", "grid": false,
            "values": [0.03,0.04,0.05,0.06,0.07,0.08,0.09,0.1,0.2,0.3,0.4,0.5,0.6,0.7,0.8,0.9,1,2],
            "format": "~g",
            "labelExpr": "indexof([0.05,0.1,0.2,0.5,1,2], datum.value) >= 0 ? datum.label : ''",
            "tickSize": {"condition": {"test": "datum.value == 0.1 || datum.value == 1", "value": -10}, "value": -5},
            "labelAngle": 270, "labelAlign": "center", "labelBaseline": "bottom", "labelPadding": 22,
            "labelFont": "Liberation Sans", "labelFontSize": 13, "labelColor": "#111111",
            "titleFont": "Liberation Sans", "titleFontSize": 13, "titleFontWeight": "normal", "titleColor": "#111111", "titlePadding": 18,
            "domainColor": "#222222", "domainWidth": 1.5, "tickColor": "#222222", "tickWidth": 1.2
          }
        },
        "yError": {"field": "dv"},
        "color": {"field": "s", "type": "nominal", "scale": {"domain": ["low", "high"], "range": ["#000000", "#ff0000"]}, "legend": null}
      }
    },
    {
      "mark": {"type": "errorbar", "ticks": false, "thickness": 1.5},
      "encoding": {
        "x": {
          "field": "e", "type": "quantitative",
          "scale": {"domain": [0.285, 12], "nice": false, "zero": false},
          "axis": {
            "orient": "top", "title": "High-state and Low-state spectra", "grid": false,
            "titleAnchor": "start", "titleAlign": "left", "titlePadding": 6,
            "titleFont": "DejaVu Sans", "titleFontSize": 15, "titleFontWeight": "normal", "titleColor": "#111111",
            "values": [1,2,3,4,5,6,7,8,9,10,11,12], "labels": false,
            "tickSize": {"condition": {"test": "datum.value % 2 == 0", "value": -10}, "value": -5},
            "domainColor": "#222222", "domainWidth": 1.5, "tickColor": "#222222", "tickWidth": 1.2
          }
        },
        "xError": {"field": "de"},
        "y": {
          "field": "v", "type": "quantitative",
          "scale": {"type": "log", "domain": [0.03, 2], "nice": false},
          "axis": {
            "orient": "right", "title": null, "grid": false, "labels": false,
            "values": [0.03,0.04,0.05,0.06,0.07,0.08,0.09,0.1,0.2,0.3,0.4,0.5,0.6,0.7,0.8,0.9,1,2],
            "tickSize": {"condition": {"test": "datum.value == 0.1 || datum.value == 1", "value": -10}, "value": -5},
            "domainColor": "#222222", "domainWidth": 1.5, "tickColor": "#222222", "tickWidth": 1.2
          }
        },
        "color": {"field": "s", "type": "nominal", "scale": {"domain": ["low", "high"], "range": ["#000000", "#ff0000"]}, "legend": null}
      }
    }
  ],
  "resolve": {"axis": {"x": "independent", "y": "independent"}}
}
